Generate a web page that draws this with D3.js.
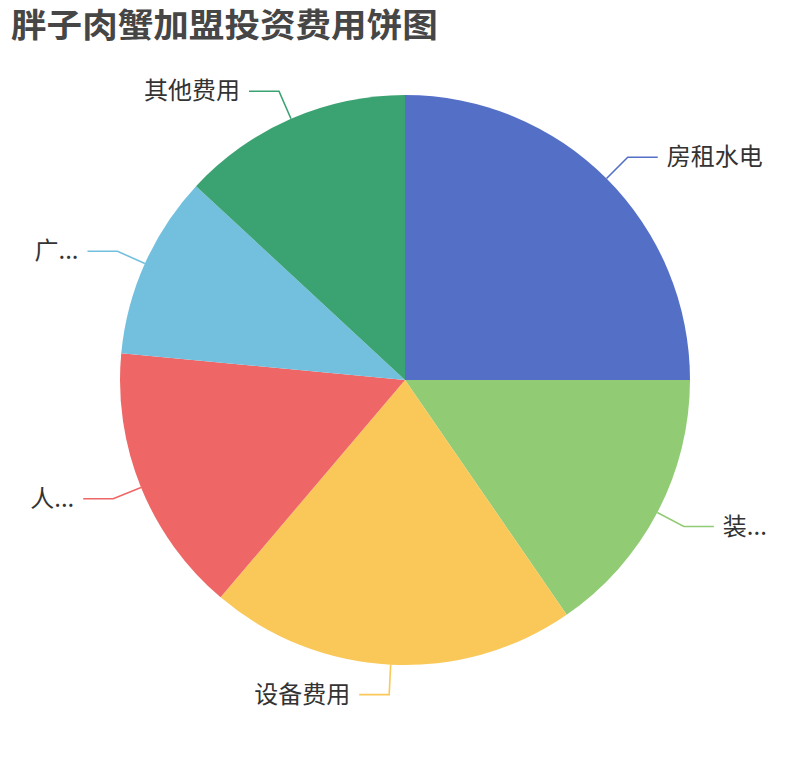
<!DOCTYPE html>
<meta charset="utf-8">
<style>
html, body { margin: 0; padding: 0; background: #fff; }
svg { display: block; }
</style>
<script src="https://cdn.jsdelivr.net/npm/d3@7"></script>
<body>
<script>
// values (share of total)
var categories = ['房租水电', '装...', '设备费用', '人...', '广...', '其他费用'];
var values = [25, 15.4, 20.8, 15.3, 10.4, 13.1];
var colors = ['#5470c6', '#91cc75', '#fac858', '#ee6666', '#73c0de', '#3ba272'];
var title = '胖子肉蟹加盟投资费用饼图';

var W = 810, H = 760;
var cx = 405, cy = 380, R = 285;
var len1 = 30, len2 = 30, gap = 9;

var svg = d3.select('body').append('svg')
  .attr('width', W)
  .attr('height', H);

// title glyphs in the reference are wider than tall, so stretch horizontally
var titleText = svg.append('text')
  .attr('x', 0)
  .attr('y', 0)
  .attr('font-family', '"DejaVu Sans", "Noto Sans CJK SC", sans-serif')
  .attr('font-weight', 'bold')
  .attr('font-size', '33px')
  .attr('fill', '#464646')
  .text(title);
var tw = titleText.node().getComputedTextLength();
titleText.attr('transform', 'translate(11,37) scale(' + (427 / tw) + ',1)');

var data = categories.map(function(c, i) { return {name: c, value: values[i], color: colors[i]}; });

var pie = d3.pie().sort(null).value(function(d) { return d.value; });
var arc = d3.arc().innerRadius(0).outerRadius(R);
var arcs = pie(data);

var g = svg.append('g').attr('transform', 'translate(' + cx + ',' + cy + ')');

g.selectAll('path.slice')
  .data(arcs)
  .enter()
  .append('path')
  .attr('class', 'slice')
  .attr('d', arc)
  .attr('fill', function(d) { return d.data.color; });

function pt(a, r) { return [r * Math.sin(a), -r * Math.cos(a)]; }

arcs.forEach(function(d) {
  var mid = (d.startAngle + d.endAngle) / 2;
  var p0 = pt(mid, R), p1 = pt(mid, R + len1);
  var dir = Math.sin(mid) >= 0 ? 1 : -1;
  var p2 = [p1[0] + dir * len2, p1[1]];

  g.append('polyline')
    .attr('points', [p0, p1, p2].map(function(p) { return p.join(','); }).join(' '))
    .attr('fill', 'none')
    .attr('stroke', d.data.color)
    .attr('stroke-width', 1.6);

  g.append('text')
    .attr('x', p2[0] + dir * gap)
    .attr('y', p2[1] + 8)
    .attr('text-anchor', dir > 0 ? 'start' : 'end')
    .attr('font-family', '"Noto Sans CJK SC", sans-serif')
    .attr('font-size', '24px')
    .attr('fill', '#333')
    .text(d.data.name);
});
</script>
</body>
